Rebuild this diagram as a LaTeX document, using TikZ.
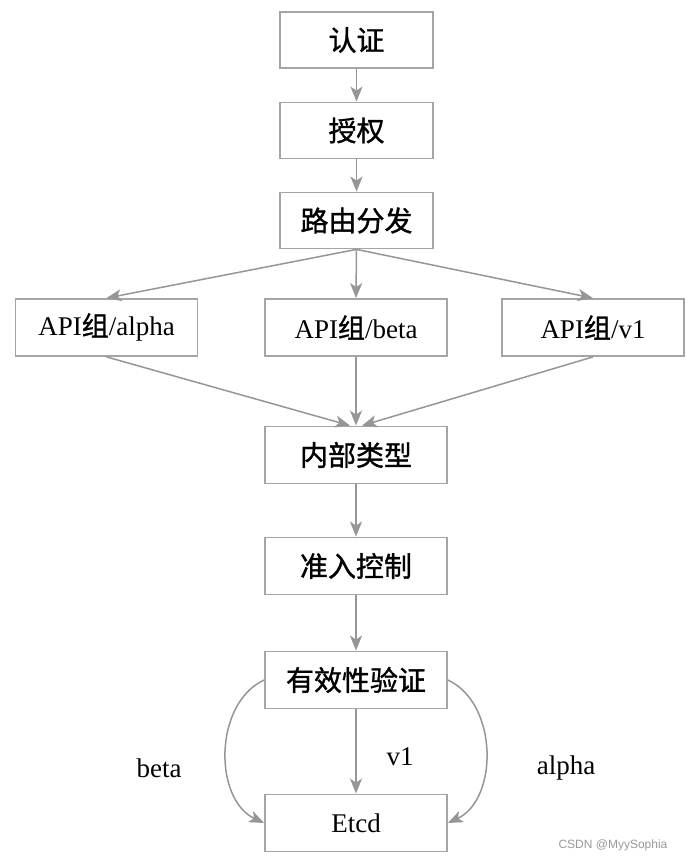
\documentclass[tikz,border=0pt]{standalone}
\usepackage{fontspec}
\setmainfont{Liberation Serif}
\newfontfamily\cjk{Noto Sans CJK SC}[FakeBold=1.2]
\newfontfamily\wmfont{Liberation Sans}
\usetikzlibrary{arrows.meta}
\definecolor{boxgray}{RGB}{165,165,165}
\definecolor{arrgray}{RGB}{150,150,150}
\tikzset{
  stagebox/.style = {draw=boxgray,line width=1.8pt,minimum width=153pt,minimum height=56pt,
                     inner sep=0pt,font=\cjk\fontsize{28}{32}\selectfont},
  widebox/.style  = {stagebox,minimum width=182pt,minimum height=57pt},
  apibox/.style   = {widebox,font=\fontsize{27}{32}\selectfont},
  flowarr/.style  = {-{Stealth[length=15pt,width=12pt,inset=4pt]},arrgray,line width=1.5pt},
  edgelbl/.style  = {font=\fontsize{27}{32}\selectfont}
}

\begin{document}
\begin{tikzpicture}[x=1pt,y=1pt]
  \useasboundingbox[fill=white] (0,0) rectangle (690,863);
  % request chain, top to bottom
  \node[stagebox] (auth)  at (356.5,823)   {认证};
  \node[stagebox] (authz) at (356.5,732.5) {授权};
  \node[stagebox] (route) at (356.5,642.5) {路由分发};
  \node[apibox] (alpha) at (106.5,535.5) {API{\cjk 组}/alpha};
  \node[apibox] (beta)  at (356,535.5)   {API{\cjk 组}/beta};
  \node[apibox] (vone)  at (593,535.5)   {API{\cjk 组}/v1};
  \node[widebox] (inner) at (356,408) {内部类型};
  \node[widebox] (admit) at (356,297) {准入控制};
  \node[widebox] (valid) at (356,183) {有效性验证};
  \node[apibox] (etcd)  at (356,40)  {Etcd};
  \draw[flowarr] (auth) -- (authz);
  \draw[flowarr] (authz) -- (route);
  \draw[flowarr] (route.south) -- (alpha.north);
  \draw[flowarr] (route.south) -- (beta.north);
  \draw[flowarr] (route.south) -- (vone.north);
  \draw[flowarr] (alpha.south) -- ([xshift=-6pt]inner.north);
  \draw[flowarr] (beta.south) -- (inner.north);
  \draw[flowarr] (vone.south) -- ([xshift=6pt]inner.north);
  \draw[flowarr] (inner) -- (admit);
  \draw[flowarr] (admit) -- (valid);
  % three ways into storage
  \draw[flowarr] (valid) -- (etcd);
  \draw[flowarr] (valid.west) to[out=205,in=155] (etcd.west);
  \draw[flowarr] (valid.east) to[out=-25,in=25] (etcd.east);
  \node[edgelbl] (lbeta)  at (159,95)  {beta};
  \node[edgelbl] (lvone)  at (400,106) {v1};
  \node[edgelbl] (lalpha) at (566,95)  {alpha};
  \node[font=\wmfont\fontsize{12}{14}\selectfont,gray!80] (mark) at (613,18) {CSDN @MyySophia};
\end{tikzpicture}
\end{document}
